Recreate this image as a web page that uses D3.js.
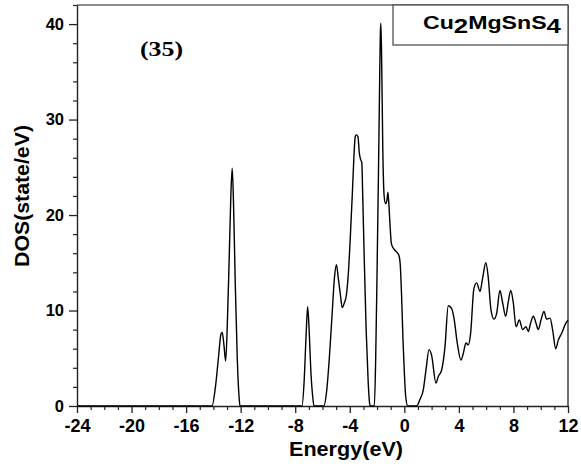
<!DOCTYPE html>
<html>
<head>
<meta charset="utf-8">
<script src="https://cdn.jsdelivr.net/npm/d3@7"></script>
<style>
  html, body { margin: 0; padding: 0; background: #fff; }
  svg { display: block; }
  text { font-family: "Liberation Sans", Arial, sans-serif; font-weight: bold; fill: #000; }
  text.serif { font-family: "Liberation Serif", "Times New Roman", serif; }
</style>
</head>
<body>
<svg id="chart" width="581" height="469"></svg>
<script>
// ---- data ----
const energy = [-24, -14.1, -13.85, -13.6, -13.45, -13.35, -13.22, -13.1, -12.98, -12.85, -12.72, -12.62, -12.52, -12.4, -12.25, -12.12, -12.05,
  -7.5, -7.35, -7.2, -7.09, -6.98, -6.85, -6.72, -6.62,
  -5.9, -5.7, -5.5, -5.3, -5.12, -4.98, -4.85, -4.7, -4.55, -4.4, -4.25, -4.1, -3.95, -3.82, -3.7, -3.6, -3.52, -3.4, -3.3, -3.2, -3.12, -3.05, -2.95, -2.8, -2.65, -2.55, -2.5,
  -2.2, -2.1, -2.0, -1.9, -1.82, -1.76, -1.72, -1.66, -1.58, -1.48, -1.38, -1.28, -1.2, -1.12, -1.05, -0.95, -0.8, -0.61, -0.4, -0.3, -0.2, -0.1, 0.0, 0.1, 0.25,
  0.9, 1.15, 1.39, 1.59, 1.81, 2.0, 2.32, 2.49, 2.74, 2.98, 3.22, 3.47, 3.64, 3.88, 4.15, 4.32, 4.52, 4.69, 4.86, 5.1, 5.3, 5.55, 5.74, 5.98, 6.15, 6.35, 6.57, 6.77,
  7.01, 7.21, 7.43, 7.62, 7.8, 7.99, 8.19, 8.43, 8.68, 8.92, 9.09, 9.26, 9.46, 9.65, 9.82, 10.02, 10.24, 10.43, 10.68, 10.87, 11.1, 11.29, 11.53, 11.85, 12.0];
const dos = [0, 0, 2, 5.5, 7.5, 7.7, 6.3, 4.7, 8.5, 15, 22, 24.9, 21, 13, 5, 1, 0,
  0, 2.5, 7.5, 10.4, 8, 3.5, 1, 0,
  0, 1.5, 5, 9.5, 13.5, 14.8, 13.5, 11.8, 10.3, 10.8, 11.6, 14, 18, 22, 26, 28.2, 28.4, 28.2, 26.5, 25.8, 25.5, 22, 16, 8, 2.5, 0.3, 0,
  0, 5, 14, 24, 33, 39, 40.1, 36, 27, 22, 21.2, 21.5, 22.4, 20.8, 19, 17, 16.5, 16.2, 15.8, 14.8, 11.5, 7, 3.5, 1, 0,
  0, 0.7, 1.7, 3.8, 5.9, 5.3, 2.4, 3.1, 3.8, 6.2, 10.5, 10.2, 9.2, 6.6, 4.8, 5.5, 6.6, 6.4, 7.6, 12.3, 12.9, 12.0, 13.4, 15.0, 13.5, 10.1, 9.1, 9.7,
  12.1, 10.8, 9.4, 10.9, 12.1, 10.8, 8.3, 9.0, 8.0, 8.3, 7.8, 8.7, 9.4, 8.7, 8.0, 9.0, 9.9, 9.1, 9.2, 8.0, 6.0, 6.9, 7.6, 8.7, 9.0];

const xTicks = [-24, -20, -16, -12, -8, -4, 0, 4, 8, 12];
const yTicks = [0, 10, 20, 30, 40];
const xLabel = "Energy(eV)";
const yLabel = "DOS(state/eV)";
const panelLabel = "(35)";

// ---- layout ----
const L = 77, R = 568, T = 5, B = 406;
const svg = d3.select("#chart");
const x = d3.scaleLinear().domain([-24, 12]).range([L, R]);
const y = d3.scaleLinear().domain([0, 42]).range([B, T]);
const fmt = v => String(v);

// frame: top and right
svg.append("line").attr("x1", L).attr("x2", R).attr("y1", T).attr("y2", T)
  .attr("stroke", "#666").attr("stroke-width", 1.3);
svg.append("line").attr("x1", R).attr("x2", R).attr("y1", T).attr("y2", B)
  .attr("stroke", "#222").attr("stroke-width", 1.3);

// x axis minor ticks
const xMinor = d3.range(-24, 12.01, 1).filter(v => !xTicks.includes(v));
svg.append("g").attr("transform", `translate(0,${B})`)
  .call(d3.axisBottom(x).tickValues(xMinor).tickSize(4).tickFormat(""))
  .call(g => g.select(".domain").remove())
  .selectAll("line").attr("stroke", "#222").attr("stroke-width", 1.2);
// x axis major
const gx = svg.append("g").attr("transform", `translate(0,${B})`)
  .call(d3.axisBottom(x).tickValues(xTicks).tickSize(7).tickPadding(6).tickSizeOuter(0).tickFormat(fmt));
gx.select(".domain").attr("stroke", "#222").attr("stroke-width", 1.4);
gx.selectAll("line").attr("stroke", "#222").attr("stroke-width", 1.3);
gx.selectAll("text").attr("fill", "#000").attr("dy", "0.72em").style("font-size", "18px");

// y axis minor ticks
const yMinor = d3.range(0, 42.01, 2).filter(v => !yTicks.includes(v));
svg.append("g").attr("transform", `translate(${L},0)`)
  .call(d3.axisLeft(y).tickValues(yMinor).tickSize(4).tickFormat(""))
  .call(g => g.select(".domain").remove())
  .selectAll("line").attr("stroke", "#222").attr("stroke-width", 1.2);
const gy = svg.append("g").attr("transform", `translate(${L},0)`)
  .call(d3.axisLeft(y).tickValues(yTicks).tickSize(8).tickPadding(5).tickSizeOuter(0).tickFormat(fmt));
gy.select(".domain").attr("stroke", "#222").attr("stroke-width", 1.4);
gy.selectAll("line").attr("stroke", "#222").attr("stroke-width", 1.3);
gy.selectAll("text").attr("fill", "#000").style("font-size", "16.5px");

// curve
const pts = energy.map((e, i) => [e, dos[i]]);
const line = d3.line().x(d => x(d[0])).y(d => y(d[1])).curve(d3.curveMonotoneX);
svg.append("path").datum(pts).attr("d", line)
  .attr("fill", "none").attr("stroke", "#000").attr("stroke-width", 1.4).attr("stroke-linejoin", "round");

// axis titles
svg.append("text").attr("x", 346).attr("y", 456).attr("text-anchor", "middle")
  .style("font-size", "21px").attr("textLength", 114).attr("lengthAdjust", "spacingAndGlyphs").text(xLabel);
svg.append("text").attr("transform", "translate(29,196) rotate(-90)").attr("text-anchor", "middle")
  .style("font-size", "21px").attr("textLength", 142).attr("lengthAdjust", "spacingAndGlyphs").text(yLabel);

// panel label
svg.append("text").attr("class", "serif").attr("x", 140).attr("y", 56)
  .style("font-size", "21px").attr("textLength", 43).attr("lengthAdjust", "spacingAndGlyphs").text(panelLabel);

// legend box
svg.append("rect").attr("x", 393).attr("y", T).attr("width", R - 393).attr("height", 40)
  .attr("fill", "#fff").attr("stroke", "#444").attr("stroke-width", 1.2);
const lt = svg.append("text").attr("x", 423).attr("y", 29).style("font-size", "17.5px")
  .attr("textLength", 138).attr("lengthAdjust", "spacingAndGlyphs");
lt.append("tspan").text("Cu");
lt.append("tspan").attr("dy", 4).style("font-size", "19.5px").text("2");
lt.append("tspan").attr("dy", -4).text("MgSnS");
lt.append("tspan").attr("dy", 4).style("font-size", "19.5px").text("4");
</script>
</body>
</html>
